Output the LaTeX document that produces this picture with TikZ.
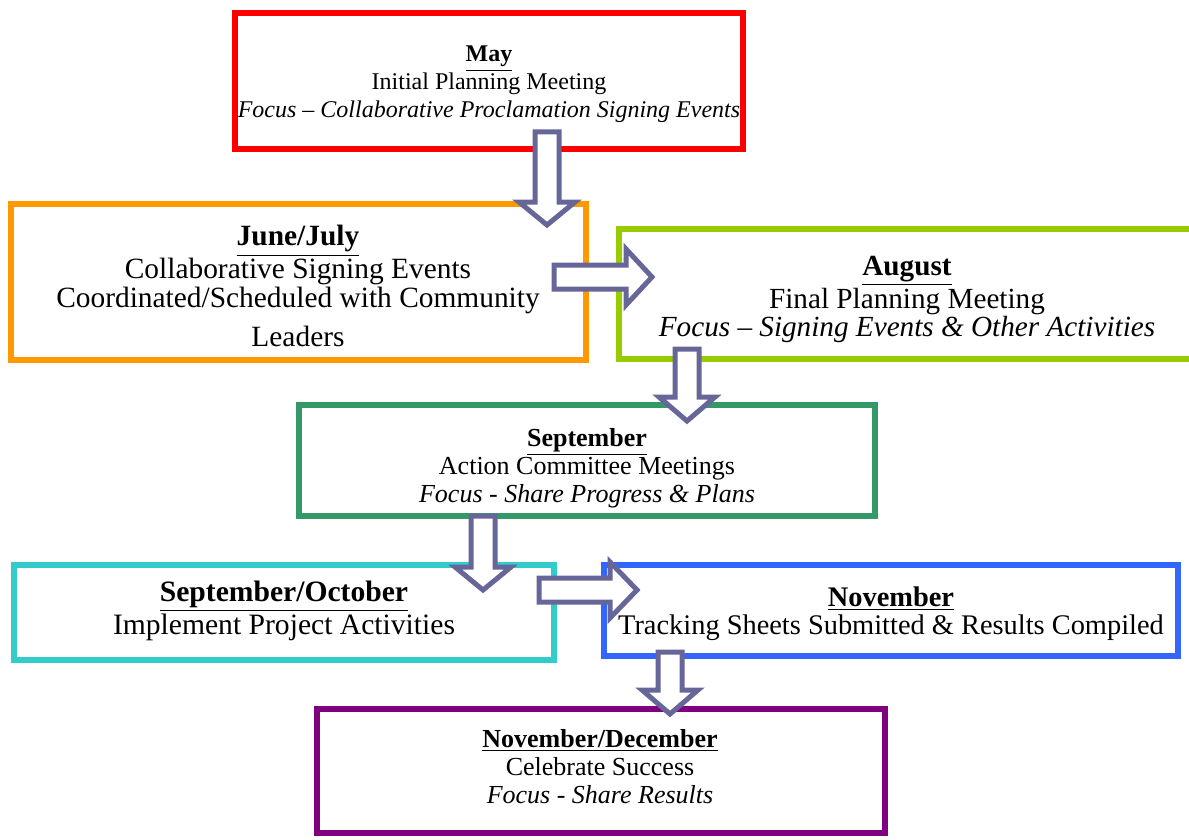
\documentclass[tikz,border=0pt]{standalone}
\usepackage{fontspec}
\setmainfont{Liberation Serif}
\usetikzlibrary{calc}
\definecolor{cRed}{HTML}{FF0000}
\definecolor{cOrange}{HTML}{FF9900}
\definecolor{cLime}{HTML}{99CC00}
\definecolor{cGreen}{HTML}{339966}
\definecolor{cCyan}{HTML}{33CCCC}
\definecolor{cBlue}{HTML}{3366FF}
\definecolor{cPurple}{HTML}{800080}
\definecolor{cArrow}{HTML}{666699}
\newcommand{\hd}[1]{\underline{\textbf{#1}}}
\begin{document}
\begin{tikzpicture}[x=0.5pt,y=-0.5pt,
  boxline/.style={line width=2.8pt},
  blockarrow/.style={draw=cArrow,fill=white,line width=2.5pt,line join=miter},
  txt/.style={align=center,inner sep=0pt,anchor=base},
  fmid/.style={font=\fontsize{13}{14}\selectfont}]
\useasboundingbox (0,0) rectangle (1189,840);
% boxes
\draw[boxline,cRed] (235,13) rectangle (743,149);
\draw[boxline,cOrange] (11,204) rectangle (586,360);
\draw[boxline,cLime] (1210,229) -- (619,229) -- (619,359) -- (1210,359);
\draw[boxline,cGreen] (299,405) rectangle (875,516);
\draw[boxline,cCyan] (14,565) rectangle (554,660);
\draw[boxline,cBlue] (604,565) rectangle (1178,656);
\draw[boxline,cPurple] (317,709) rectangle (885,833);
% texts (anchored at the baseline of the last line)
\node[txt,font=\fontsize{12}{14}\selectfont] (tmay) at (489,118) {\hd{May}\\Initial Planning Meeting\\\textit{Focus – Collaborative Proclamation Signing Events}};
\node[txt,font=\fontsize{14.7}{14.25}\selectfont] (tjun) at (298,346) {\hd{June/July}\\Collaborative Signing Events\\Coordinated/Scheduled with Community\\[5.25pt]Leaders};
\node[txt,font=\fontsize{14.6}{14}\selectfont] (taug) at (907,336) {\hd{August}\\Final Planning Meeting\\\textit{Focus – Signing Events \& Other Activities}};
\node[txt,fmid] (tsep) at (587,502) {\hd{September}\\Action Committee Meetings\\\textit{Focus - Share Progress \& Plans}};
\node[txt,font=\fontsize{14.8}{14}\selectfont] (tso) at (284,634) {\hd{September/October}\\Implement Project Activities};
\node[txt,font=\fontsize{14.2}{14}\selectfont] (tnov) at (891,634) {\hd{November}\\Tracking Sheets Submitted \& Results Compiled};
\node[txt,fmid] (tnd) at (600,803) {\hd{November/December}\\Celebrate Success\\\textit{Focus - Share Results}};
% arrow anchor coordinates
\coordinate (a1s) at (547,132); \coordinate (a1t) at (547,225);
\coordinate (a2s) at (554,277); \coordinate (a2t) at (652,277);
\coordinate (a3s) at (687,349); \coordinate (a3t) at (687,421);
\coordinate (a4s) at (483,516); \coordinate (a4t) at (483,590);
\coordinate (a5s) at (539,590); \coordinate (a5t) at (637,590);
\coordinate (a6s) at (670,652); \coordinate (a6t) at (670,714);
% down arrows
\foreach \a/\h in {a1/23,a3/24,a4/23,a6/24}{
  \draw[blockarrow] ($(\a s)+(-12,0)$) -- ($(\a s)+(12,0)$) -- ($(\a t)+(12,-\h)$) -- ($(\a t)+(28,-\h)$) -- (\a t) -- ($(\a t)+(-28,-\h)$) -- ($(\a t)+(-12,-\h)$) -- cycle;
}
% right arrows
\foreach \a/\h in {a2/26,a5/27}{
  \draw[blockarrow] ($(\a s)+(0,-12)$) -- ($(\a t)+(-\h,-12)$) -- ($(\a t)+(-\h,-28)$) -- (\a t) -- ($(\a t)+(-\h,28)$) -- ($(\a t)+(-\h,12)$) -- ($(\a s)+(0,12)$) -- cycle;
}
\end{tikzpicture}
\end{document}
